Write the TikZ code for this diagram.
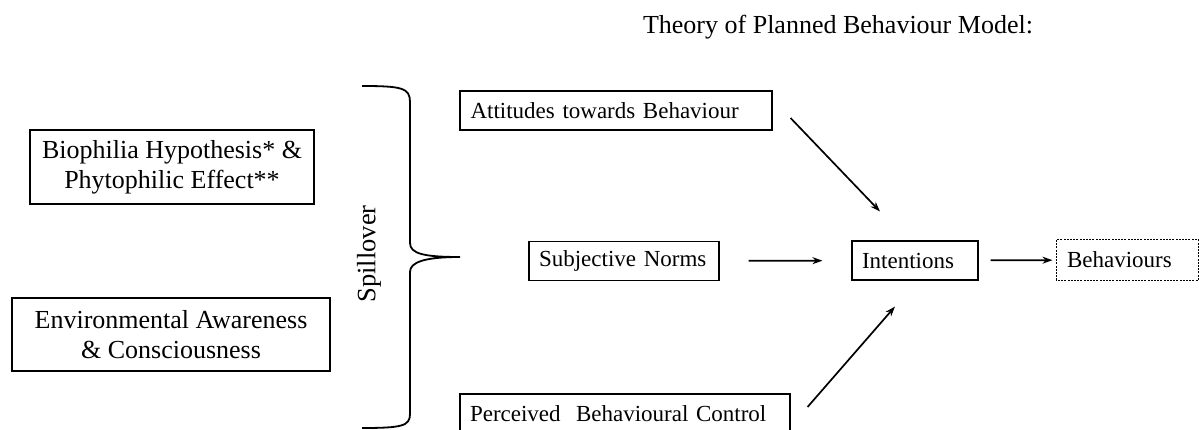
\documentclass[tikz,border=0pt]{standalone}
\usepackage{fontspec}
\setmainfont{Liberation Serif}
\usetikzlibrary{arrows.meta,positioning}

\begin{document}
\begin{tikzpicture}[
    x=1pt, y=-1pt,
    bigbox/.style={draw, line width=1.1pt, align=center, inner sep=0pt, font=\fontsize{26}{30}\selectfont},
    tpbbox/.style={draw, line width=1.1pt, align=left, inner xsep=10pt, inner ysep=0pt, minimum height=39pt, font=\fontsize{23}{26}\selectfont},
    arrow/.style={-{Stealth[length=10pt,width=7pt]}, line width=1.7pt},
    brace/.style={line width=1.8pt}
]
\useasboundingbox (0,0) rectangle (1199,430);

\node[font=\fontsize{26}{30}\selectfont] (title) at (838,27) {Theory of Planned Behaviour Model:};

\node[bigbox, minimum width=284pt, minimum height=74pt] (bio) at (172,167) {Biophilia Hypothesis* \&\\Phytophilic Effect**};
\node[bigbox, minimum width=318pt, minimum height=73pt] (env) at (171,334.5) {Environmental Awareness\\\& Consciousness};

\node[rotate=90, font=\fontsize{26.5}{30}\selectfont] (spill) at (369,254) {Spillover};

% brace grouping the two drivers
\draw[brace] (362,86) .. controls (402,86) and (410,88) .. (410,102) -- (410,243)
    .. controls (410,254) and (425,257) .. (460,257)
    .. controls (425,257) and (410,262) .. (410,272) -- (410,414)
    .. controls (410,426) and (402,428) .. (362,428);

\node[tpbbox, text width=291pt, minimum width=312pt] (att) at (616,110.5) {Attitudes towards Behaviour};
\node[tpbbox, text width=170pt, minimum width=190pt] (subj) at (624,261) {Subjective Norms};
\node[tpbbox, text width=310pt, minimum width=330pt] (perc) at (625,413.5) {Perceived\ \ Behavioural Control};
\node[tpbbox, text width=106pt, minimum width=126pt] (int) at (915,260.5) {Intentions};
\node[tpbbox, text width=121pt, minimum width=141pt, draw=none] (beh) at (1127.5,260) {Behaviours};
\draw[line width=1pt, dash pattern=on 2pt off 1.2pt] (beh.north west) rectangle (beh.south east);

\draw[arrow] ([xshift=18pt,yshift=-7.5pt]att.east) -- ([xshift=-35pt,yshift=29pt]int.north);
\draw[arrow, shorten <=29pt, shorten >=29pt] (subj) -- (int);
\draw[arrow] ([xshift=17pt,yshift=6.5pt]perc.east) -- ([xshift=-20pt,yshift=-26pt]int.south);
\draw[arrow, shorten <=12pt, shorten >=4pt] (int) -- (beh);
\end{tikzpicture}
\end{document}
